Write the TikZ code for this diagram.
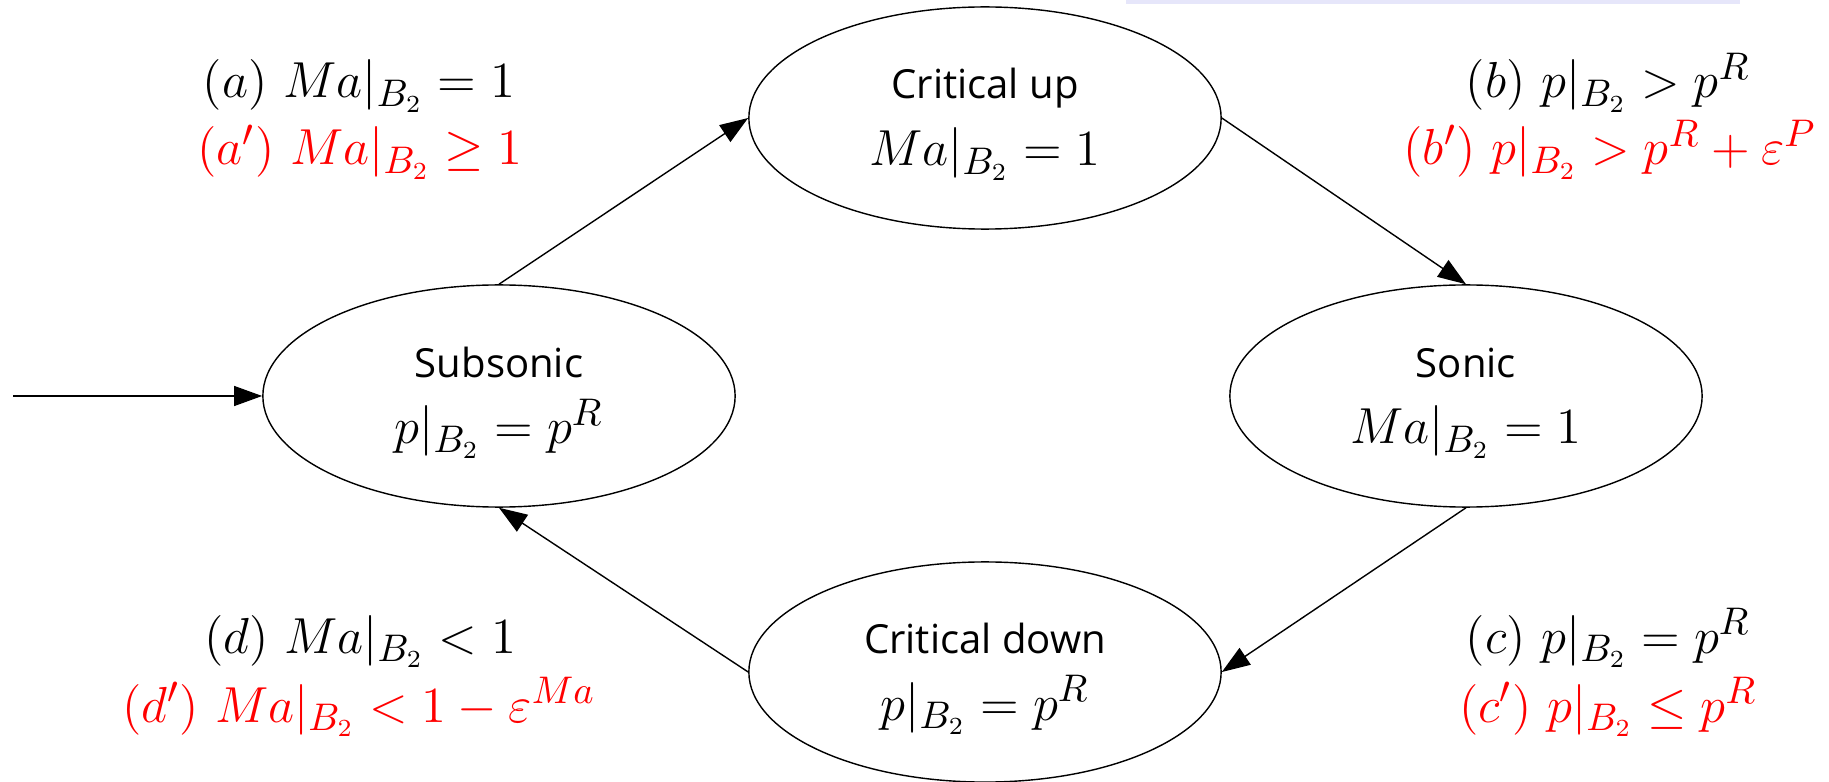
\documentclass[tikz,border=0pt]{standalone}
\usepackage{fontspec}
\setsansfont{Open Sans}
\usetikzlibrary{shapes.geometric,arrows.meta}
\definecolor{lav}{RGB}{230,230,250}
\tikzset{
  state/.style={draw, ellipse, line width=0.4pt, inner sep=0pt, minimum width=4.72cm, minimum height=2.22cm},
  sanslbl/.style={anchor=base, inner sep=0pt, font=\sffamily\fontsize{11.4}{14}\selectfont},
  mathlbl/.style={anchor=base, inner sep=0pt, font=\fontsize{15}{18}\selectfont},
  redlbl/.style={mathlbl, text=red},
  edge/.style={line width=0.4pt, -{Triangle[length=8pt,width=5.7pt]}}
}
\begin{document}
\begin{tikzpicture}[x=0.01cm,y=-0.01cm]
\useasboundingbox (0,0) rectangle (1829,782);
\fill[lav] (1126,0) rectangle (1740,4);
% states
\node[state] (sub) at (499,396) {};
\node[state] (cup) at (985,118) {};
\node[state] (son) at (1466,396) {};
\node[state, minimum height=2.20cm] (cdn) at (985,672) {};
% state texts
\node[sanslbl] (subT) at (499,377) {Subsonic};
\node[mathlbl] (subM) at (499,444) {$p|_{B_2}=p^R$};
\node[sanslbl] (cupT) at (985,99) {Critical up};
\node[mathlbl] (cupM) at (985,166) {$Ma|_{B_2}=1$};
\node[sanslbl] (sonT) at (1466,377) {Sonic};
\node[mathlbl] (sonM) at (1466,444) {$Ma|_{B_2}=1$};
\node[sanslbl] (cdnT) at (985,653) {Critical down};
\node[mathlbl] (cdnM) at (985,720) {$p|_{B_2}=p^R$};
% transition labels
\node[mathlbl] (la) at (359,98) {$(a)\ Ma|_{B_2}=1$};
\node[redlbl] (lar) at (360,165) {$(a')\ Ma|_{B_2}\geq 1$};
\node[mathlbl] (lb) at (1608,98) {$(b)\ p|_{B_2}>p^R$};
\node[redlbl] (lbr) at (1610,165) {$(b')\ p|_{B_2}>p^R+\varepsilon^P$};
\node[mathlbl] (lc) at (1608,653) {$(c)\ p|_{B_2}=p^R$};
\node[redlbl] (lcr) at (1608,722) {$(c')\ p|_{B_2}\leq p^R$};
\node[mathlbl] (ld) at (360,653) {$(d)\ Ma|_{B_2}<1$};
\node[redlbl] (ldr) at (359,722) {$(d')\ Ma|_{B_2}<1-\varepsilon^{Ma}$};
% edges
\coordinate (init) at (13,396);
\draw[edge] (init) -- (sub.west);
\draw[edge] (sub.north) -- (cup.west);
\draw[edge] (cup.east) -- (son.north);
\draw[edge] (son.south) -- (cdn.east);
\draw[edge] (cdn.west) -- (sub.south);
\end{tikzpicture}
\end{document}
